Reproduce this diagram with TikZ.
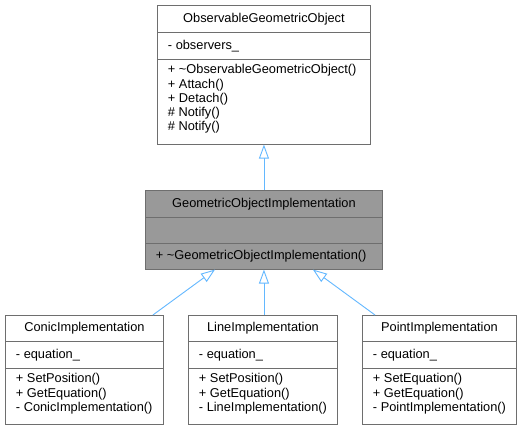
\documentclass[tikz,border=0pt]{standalone}
\usepackage{fontspec}
\setmainfont{Liberation Sans}
\usetikzlibrary{shapes.multipart, arrows.meta}
\definecolor{edgeblue}{HTML}{63B8FF}
\definecolor{boxgray}{HTML}{6E6E6E}
\definecolor{fillgray}{HTML}{999999}

% class compartments: height, width, text
\newcommand{\clsname}[3]{\parbox[c][#1pt][c]{#2pt}{\centering #3}}
\newcommand{\clsattr}[3]{\parbox[c][#1pt][c]{#2pt}{\raggedright\leftskip=10.5pt #3}}
\newcommand{\clsops}[3]{\parbox[c][#1pt][t]{#2pt}{\raggedright\leftskip=10.5pt\vspace*{5pt}#3}}

\begin{document}
\begin{tikzpicture}[
    x=1pt, y=-1pt,
    every node/.style={font=\fontsize{12.8}{14.2}\selectfont},
    umlclass/.style={rectangle split, rectangle split parts=3, draw=boxgray,
      line width=0.9pt, fill=white, inner sep=0pt, anchor=north west},
    inherit/.style={draw=edgeblue, line width=0.9pt,
      -{Triangle[length=14pt, width=10pt, fill=white]}},
  ]
  \path[use as bounding box, fill=white] (0,0) rectangle (524,427);

  % Base class
  \node[umlclass] (obs) at (157,5) {\clsname{26}{213}{ObservableGeometricObject}
    \nodepart{two}\clsattr{26}{213}{- observers\_}
    \nodepart{three}\clsops{84}{213}{+ \textasciitilde ObservableGeometricObject()\\+ Attach()\\+ Detach()\\\# Notify()\\\# Notify()}};

  % Implementation
  \node[umlclass, fill=fillgray] (goi) at (145,190) {\clsname{26}{237}{GeometricObjectImplementation}
    \nodepart{two}\clsattr{25}{237}{}
    \nodepart{three}\clsattr{25}{237}{+ \textasciitilde GeometricObjectImplementation()}};
  \draw[inherit] (goi.north) -- (obs.south);

  % Derived classes
  \node[umlclass] (conic) at (5,315) {\clsname{25}{158}{ConicImplementation}
    \nodepart{two}\clsattr{26}{158}{- equation\_}
    \nodepart{three}\clsops{55}{158}{+ SetPosition()\\+ GetEquation()\\- ConicImplementation()}};
  \node[umlclass] (line) at (188,315) {\clsname{25}{149}{LineImplementation}
    \nodepart{two}\clsattr{26}{149}{- equation\_}
    \nodepart{three}\clsops{55}{149}{+ SetPosition()\\+ GetEquation()\\- LineImplementation()}};
  \node[umlclass] (point) at (362,315) {\clsname{25}{154}{PointImplementation}
    \nodepart{two}\clsattr{26}{154}{- equation\_}
    \nodepart{three}\clsops{55}{154}{+ SetEquation()\\+ GetEquation()\\- PointImplementation()}};

  \draw[inherit] ([xshift=-11pt]conic.north east) -- ([xshift=-49pt]goi.south);
  \draw[inherit] (goi.south |- line.north) -- (goi.south);
  \draw[inherit] ([xshift=13pt]point.north west) -- ([xshift=49pt]goi.south);
\end{tikzpicture}
\end{document}
